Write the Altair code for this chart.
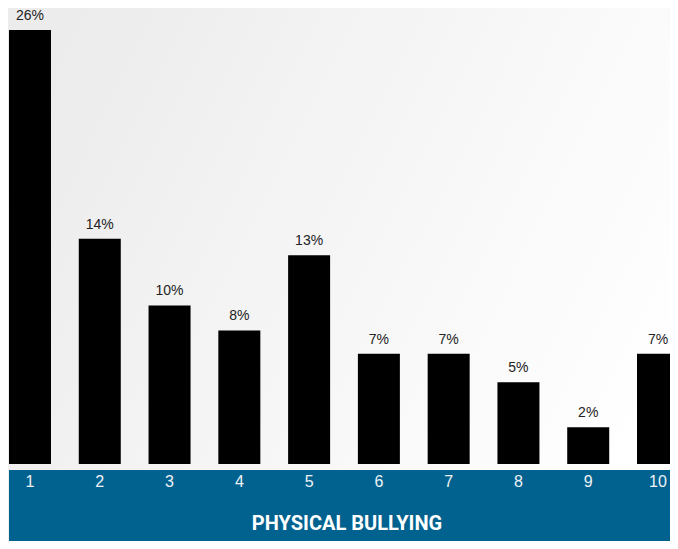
import altair as alt
import pandas as pd

categories = [1, 2, 3, 4, 5, 6, 7, 8, 9, 10]
values = [26.0, 13.5, 9.5, 8.0, 12.5, 6.6, 6.6, 4.9, 2.2, 6.6]
labels = ["26%", "14%", "10%", "8%", "13%", "7%", "7%", "5%", "2%", "7%"]
title_text = "PHYSICAL BULLYING"

df = pd.DataFrame({"cat": categories, "value": values, "label": labels})
one = pd.DataFrame({"a": [0]})

W, H = 662, 533
xscale = alt.Scale(domain=[1, 10], range=[22, 650], padding=0, zero=False, nice=False)
yscale = alt.Scale(domain=[0, 26], range=[456, 22], nice=False)

bg = alt.Chart(one).mark_rect(
    color=alt.Gradient(
        gradient="linear",
        stops=[alt.GradientStop(color="#ececec", offset=0),
               alt.GradientStop(color="#f6f6f6", offset=0.5),
               alt.GradientStop(color="#ffffff", offset=1)],
        x1=0, y1=0.3, x2=1, y2=0.7,
    )
).encode(x=alt.value(0), x2=alt.value(W), y=alt.value(0), y2=alt.value(H))

band = alt.Chart(one).mark_rect(color="#02628f").encode(
    x=alt.value(1), x2=alt.value(W), y=alt.value(462), y2=alt.value(H)
)

base = alt.Chart(df)

bars = base.mark_bar(size=42, color="#000000").encode(
    x=alt.X("cat:Q", scale=xscale, axis=None),
    y=alt.Y("value:Q", scale=yscale, axis=None),
)

vlabels = base.mark_text(
    font="Liberation Sans", fontSize=14, color="#222222", dy=-10, baseline="alphabetic"
).encode(
    x=alt.X("cat:Q", scale=xscale, axis=None),
    y=alt.Y("value:Q", scale=yscale, axis=None),
    text="label:N",
)

ticks = base.mark_text(
    font="Liberation Sans", fontSize=16, color="#eef2f6", baseline="alphabetic"
).encode(
    x=alt.X("cat:Q", scale=xscale, axis=None),
    y=alt.value(479),
    text="cat:N",
)

title = alt.Chart(one).mark_text(
    text=title_text,
    font="Roboto, sans-serif",
    fontSize=20, fontWeight="bold", color="#ffffff", baseline="middle", align="center",
).encode(x=alt.value(339), y=alt.value(516))

chart = alt.layer(bg, band, bars, vlabels, ticks, title).properties(
    width=W, height=H, autosize=alt.AutoSizeParams(type="none"), padding=0
).configure_view(stroke=None)

chart.save("out.html", embed_options={"renderer": "svg", "actions": False})
